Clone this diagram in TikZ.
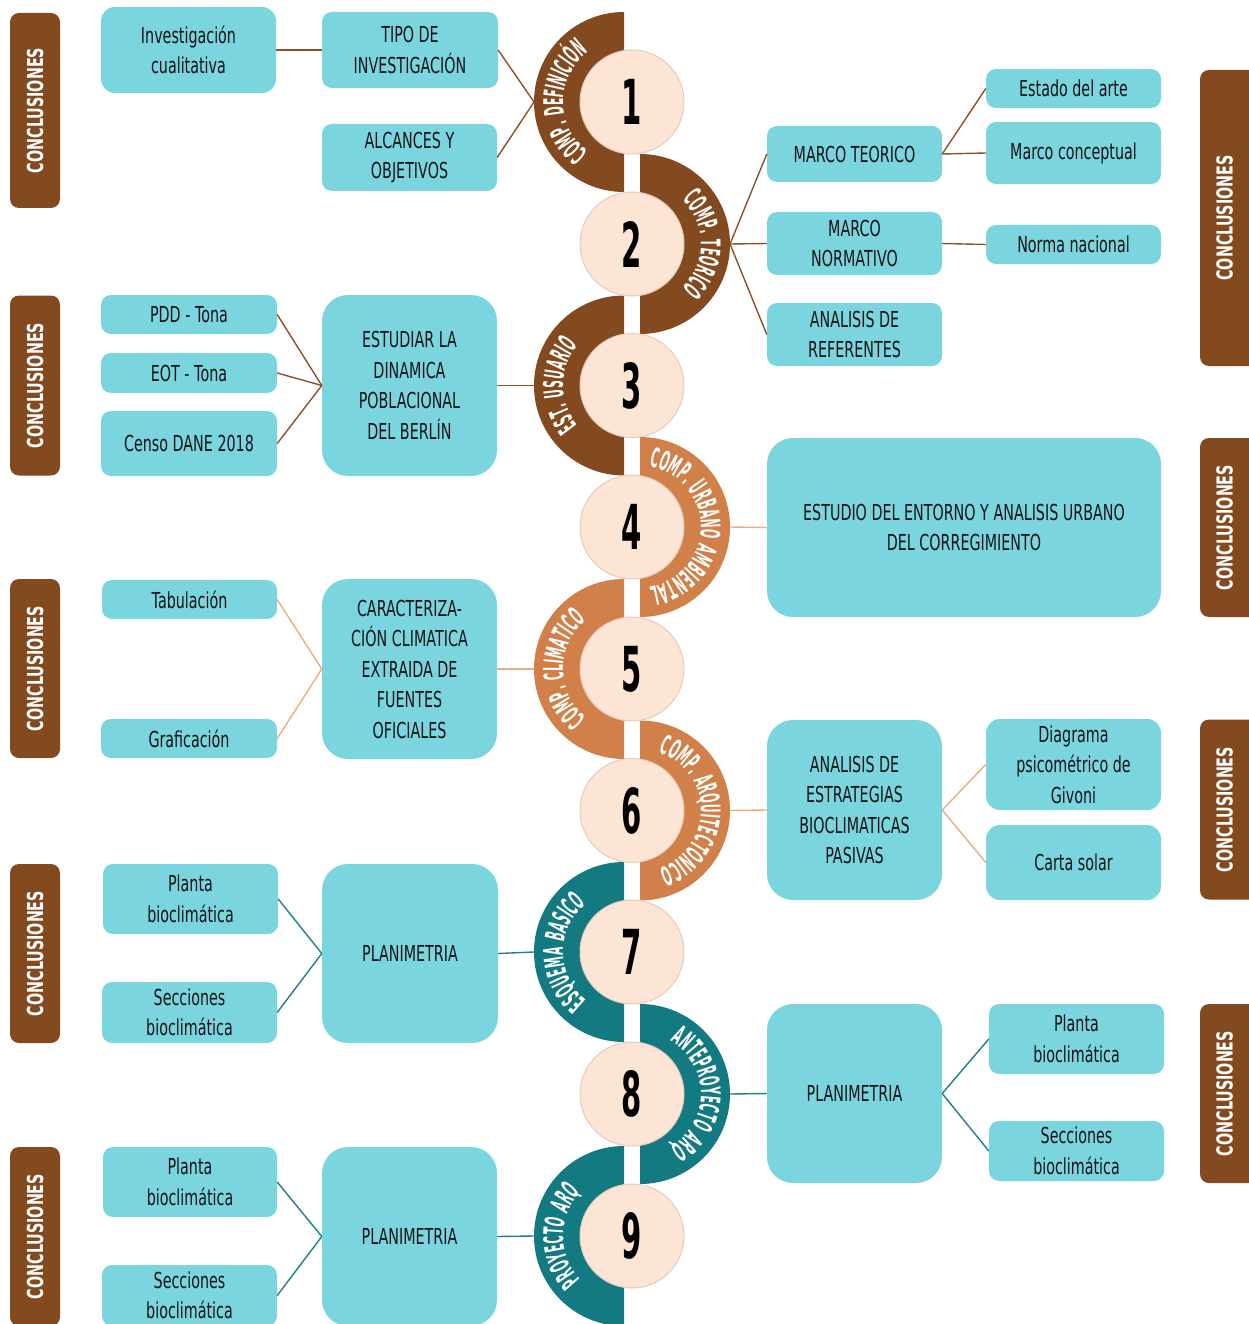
\documentclass[tikz,border=0pt]{standalone}
\usepackage{fontspec}
\usetikzlibrary{decorations.text}
\newfontfamily\boxfont{DejaVu Sans}[FakeStretch=0.65]
\newfontfamily\ringfont{DejaVu Sans}[FakeStretch=0.40, WordSpace=1.4]
\newfontfamily\digitfont{DejaVu Sans}[FakeStretch=0.47]

\definecolor{brownc}{HTML}{844A1F}
\definecolor{orangec}{HTML}{D08048}
\definecolor{tealc}{HTML}{127A80}
\definecolor{boxc}{HTML}{7BD5DF}
\definecolor{discc}{HTML}{FCE5D5}
\definecolor{discedge}{HTML}{E4CBBB}
\definecolor{linkbrown}{HTML}{8E5127}
\definecolor{linkorange}{HTML}{EDAC7B}
\definecolor{linkteal}{HTML}{1F8088}
\definecolor{ink}{HTML}{141414}

\tikzset{
  card/.style={fill=boxc, rounded corners=10pt, inner sep=0pt, align=center,
    font=\boxfont\fontsize{22}{30.5}\selectfont, text=ink},
  bigcard/.style={card, rounded corners=26pt},
  disc/.style={circle, minimum size=104pt, inner sep=0pt, fill=discc, draw=discedge,
    line width=1pt, font=\digitfont\bfseries\fontsize{62}{62}\selectfont, text=black},
  conclbar/.style={fill=brownc, rounded corners=9pt, inner sep=0pt},
  concltext/.style={rotate=90, inner sep=0pt, text=white,
    font=\boxfont\bfseries\fontsize{22}{22}\selectfont},
  ringtext/.style={decorate, decoration={text along path, text align=center,
    text={|\ringfont\bfseries\fontsize{27}{27}\selectfont\color{white}|#1}}},
  link/.style={line width=1.4pt},
}

\begin{document}
\begin{tikzpicture}[x=1pt,y=1pt]
\useasboundingbox (0,0) rectangle (1249,-1324);
\clip (0,0) rectangle (1249,-1324);

% ---------- spine: half discs ----------
\fill[brownc]  (624,-12)     arc[start angle=90, end angle=270, radius=90] -- cycle;
\fill[brownc]  (640,-154)    arc[start angle=90, end angle=-90, radius=90] -- cycle;
\fill[brownc]  (624,-295.5)  arc[start angle=90, end angle=270, radius=90] -- cycle;
\fill[orangec] (640,-437)    arc[start angle=90, end angle=-90, radius=90] -- cycle;
\fill[orangec] (624,-579)    arc[start angle=90, end angle=270, radius=90] -- cycle;
\fill[orangec] (640,-720.5)  arc[start angle=90, end angle=-90, radius=90] -- cycle;
\fill[tealc]   (624,-862)    arc[start angle=90, end angle=270, radius=90] -- cycle;
\fill[tealc]   (640,-1004)   arc[start angle=90, end angle=-90, radius=90] -- cycle;
\fill[tealc]   (624,-1146)   arc[start angle=90, end angle=270, radius=90] -- cycle;

% ---------- spine: curved labels ----------
\path[ringtext={COMP. DEFINICIÓN}]     (624,-102)    ++(270:61) arc[start angle=270, end angle=90, radius=61];
\path[ringtext={COMP. TEORICO}]        (640,-244)    ++(90:61)  arc[start angle=90, end angle=-90, radius=61];
\path[ringtext={EST. USUARIO}]         (624,-385.5)  ++(270:61) arc[start angle=270, end angle=90, radius=61];
\path[ringtext={COMP. URBANO AMBIENTAL}] (640,-527)  ++(90:61)  arc[start angle=90, end angle=-90, radius=61];
\path[ringtext={COMP. CLIMATICO}]      (624,-669)    ++(270:61) arc[start angle=270, end angle=90, radius=61];
\path[ringtext={COMP. ARQUITECTONICO}] (640,-810.5)  ++(90:61)  arc[start angle=90, end angle=-90, radius=61];
\path[ringtext={ESQUEMA BASICO}]       (624,-952)    ++(270:61) arc[start angle=270, end angle=90, radius=61];
\path[ringtext={ANTEPROYECTO ARQ}]     (640,-1094)   ++(90:61)  arc[start angle=90, end angle=-90, radius=61];
\path[ringtext={PROYECTO ARQ}]         (624,-1236)   ++(270:61) arc[start angle=270, end angle=90, radius=61];

% ---------- spine: numbered discs ----------
\node[disc] (d1) at (632,-102)   {1};
\node[disc] (d2) at (632,-244)   {2};
\node[disc] (d3) at (632,-385.5) {3};
\node[disc] (d4) at (632,-527)   {4};
\node[disc] (d5) at (632,-669)   {5};
\node[disc] (d6) at (632,-810.5) {6};
\node[disc] (d7) at (632,-952)   {7};
\node[disc] (d8) at (632,-1094)  {8};
\node[disc] (d9) at (632,-1236)  {9};

% outer points of the half discs
\coordinate (h1) at (534,-102);
\coordinate (h2) at (730,-244);
\coordinate (h3) at (534,-385.5);
\coordinate (h4) at (730,-527);
\coordinate (h5) at (534,-669);
\coordinate (h6) at (730,-810.5);
\coordinate (h7) at (534,-952);
\coordinate (h8) at (730,-1094);
\coordinate (h9) at (534,-1236);

% ---------- left branches ----------
\node[card, minimum width=175pt, minimum height=86pt, rounded corners=14pt] (inv) at (188.5,-50) {Investigación\\cualitativa};
\node[card, minimum width=176pt, minimum height=76pt] (tipo) at (410,-50) {TIPO DE\\INVESTIGACIÓN};
\node[card, minimum width=175pt, minimum height=67pt] (alc) at (409.5,-157.5) {ALCANCES Y\\OBJETIVOS};

\node[card, minimum width=176pt, minimum height=39pt] (pdd) at (189,-314.5) {PDD - Tona};
\node[card, minimum width=176pt, minimum height=40pt] (eot) at (189,-373) {EOT - Tona};
\node[card, minimum width=176pt, minimum height=65pt] (censo) at (189,-443.5) {Censo DANE 2018};
\node[bigcard, minimum width=175pt, minimum height=181pt] (estud) at (409.5,-385.5) {ESTUDIAR LA\\DINAMICA\\POBLACIONAL\\DEL BERLÍN};

\node[card, minimum width=175pt, minimum height=39pt] (tab) at (189.5,-599.5) {Tabulación};
\node[card, minimum width=176pt, minimum height=39pt] (graf) at (189,-738.5) {Graficación};
\node[bigcard, minimum width=175pt, minimum height=180pt] (carac) at (409.5,-669) {CARACTERIZA-\\CIÓN CLIMATICA\\EXTRAIDA DE\\FUENTES\\OFICIALES};

\node[card, minimum width=175pt, minimum height=70pt] (pla7) at (190.5,-899) {Planta\\bioclimática};
\node[card, minimum width=175pt, minimum height=61pt] (sec7) at (189.5,-1012.5) {Secciones\\bioclimática};
\node[bigcard, minimum width=176pt, minimum height=179pt] (plan7) at (410,-953.5) {PLANIMETRIA};

\node[card, minimum width=174pt, minimum height=70pt] (pla9) at (190,-1182) {Planta\\bioclimática};
\node[card, minimum width=175pt, minimum height=61pt] (sec9) at (189.5,-1295.5) {Secciones\\bioclimática};
\node[bigcard, minimum width=175pt, minimum height=179pt] (plan9) at (409.5,-1236.5) {PLANIMETRIA};

% ---------- right branches ----------
\node[card, minimum width=175pt, minimum height=56pt] (mteo) at (854.5,-154) {MARCO TEORICO};
\node[card, minimum width=175pt, minimum height=63pt] (mnor) at (854.5,-243.5) {MARCO\\NORMATIVO};
\node[card, minimum width=175pt, minimum height=63pt] (aref) at (854.5,-334.5) {ANALISIS DE\\REFERENTES};
\node[card, minimum width=175pt, minimum height=39pt] (edo) at (1073.5,-88.5) {Estado del arte};
\node[card, minimum width=175pt, minimum height=62pt] (mcon) at (1073.5,-153) {Marco conceptual};
\node[card, minimum width=175pt, minimum height=39pt] (norma) at (1073.5,-244.5) {Norma nacional};

\node[bigcard, minimum width=394pt, minimum height=179pt] (ento) at (964,-527.5) {ESTUDIO DEL ENTORNO Y ANALISIS URBANO\\DEL CORREGIMIENTO};

\node[bigcard, minimum width=175pt, minimum height=180pt] (aest) at (854.5,-810) {ANALISIS DE\\ESTRATEGIAS\\BIOCLIMATICAS\\PASIVAS};
\node[card, minimum width=175pt, minimum height=91pt, rounded corners=14pt] (giv) at (1073.5,-764.5) {Diagrama\\psicométrico de\\Givoni};
\node[card, minimum width=175pt, minimum height=75pt, rounded corners=14pt] (carta) at (1073.5,-862.5) {Carta solar};

\node[bigcard, minimum width=175pt, minimum height=179pt] (plan8) at (854.5,-1093.5) {PLANIMETRIA};
\node[card, minimum width=175pt, minimum height=70pt] (pla8) at (1076.5,-1039) {Planta\\bioclimática};
\node[card, minimum width=175pt, minimum height=60pt] (sec8) at (1076.5,-1151) {Secciones\\bioclimática};

% ---------- connectors ----------
\begin{scope}[link, draw=linkbrown]
  \draw (inv.east) -- (tipo.west);
  \draw (tipo.east) -- (h1);
  \draw (alc.east) -- (h1);
  \draw (h2) -- (mteo.west);
  \draw (h2) -- (mnor.west);
  \draw (h2) -- (aref.west);
  \draw (mteo.east) -- (edo.west);
  \draw (mteo.east) -- (mcon.west);
  \draw (mnor.east) -- (norma.west);
  \draw (pdd.east) -- (estud.west);
  \draw (eot.east) -- (estud.west);
  \draw (censo.east) -- (estud.west);
  \draw (estud.east) -- (h3);
\end{scope}
\begin{scope}[link, draw=linkorange]
  \draw (h4) -- (ento.west);
  \draw (tab.east) -- (carac.west);
  \draw (graf.east) -- (carac.west);
  \draw (carac.east) -- (h5);
  \draw (h6) -- (aest.west);
  \draw (aest.east) -- (giv.west);
  \draw (aest.east) -- (carta.west);
\end{scope}
\begin{scope}[link, draw=linkteal]
  \draw (pla7.east) -- (plan7.west);
  \draw (sec7.east) -- (plan7.west);
  \draw (plan7.east) -- (h7);
  \draw (h8) -- (plan8.west);
  \draw (plan8.east) -- (pla8.west);
  \draw (plan8.east) -- (sec8.west);
  \draw (pla9.east) -- (plan9.west);
  \draw (sec9.east) -- (plan9.west);
  \draw (plan9.east) -- (h9);
\end{scope}

% ---------- conclusion bars, left ----------
\node[conclbar, minimum width=50pt, minimum height=195pt] (cl1) at (35,-110.5) {};
\node[conclbar, minimum width=50pt, minimum height=180pt] (cl2) at (35,-385.5) {};
\node[conclbar, minimum width=50pt, minimum height=179pt] (cl3) at (35,-668.5) {};
\node[conclbar, minimum width=50pt, minimum height=179pt] (cl4) at (35,-953.5) {};
\node[conclbar, minimum width=50pt, minimum height=179pt] (cl5) at (35,-1236.5) {};
\foreach \k in {1,...,5} \node[concltext] (tl\k) at (cl\k) {CONCLUSIONES};

% ---------- conclusion bars, right (running off the edge) ----------
\node[conclbar, minimum width=70pt, minimum height=296pt] (cr1) at (1235,-218) {};
\node[conclbar, minimum width=70pt, minimum height=179pt] (cr2) at (1235,-527.5) {};
\node[conclbar, minimum width=70pt, minimum height=180pt] (cr3) at (1235,-809.5) {};
\node[conclbar, minimum width=70pt, minimum height=179pt] (cr4) at (1235,-1093.5) {};
\foreach \k/\y in {1/-218,2/-527.5,3/-809.5,4/-1093.5} \node[concltext] (tr\k) at (1224.5,\y) {CONCLUSIONES};

\end{tikzpicture}
\end{document}
